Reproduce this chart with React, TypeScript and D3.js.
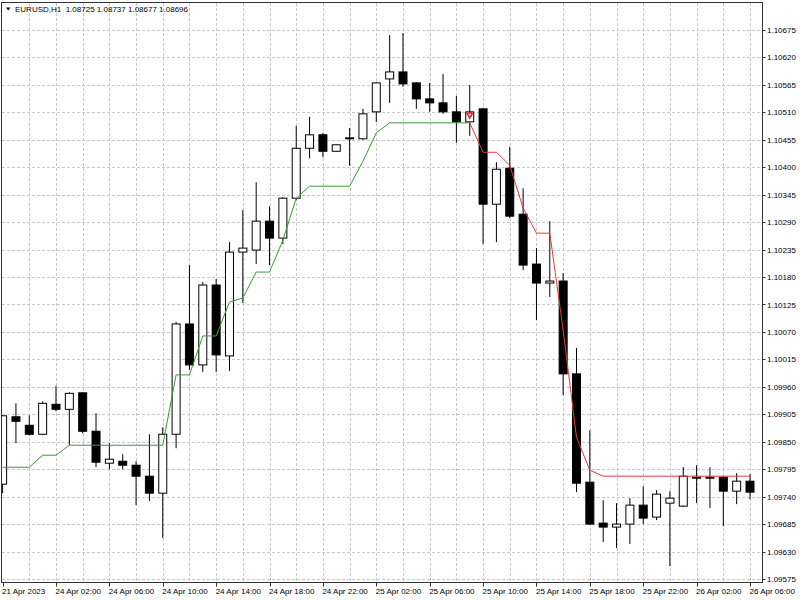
import React from 'react';
import * as d3 from 'd3';

// EURUSD H1, 21 Apr 22:00 -> 26 Apr 06:00 (one entry per bar)
const open = [
  1.09765, 1.099, 1.09883, 1.09865, 1.09925, 1.09915, 1.09948, 1.09871, 1.09807, 1.09811,
  1.09803, 1.09781, 1.09747, 1.09865, 1.10086, 1.10004, 1.10164, 1.10022, 1.1023, 1.10234,
  1.10292, 1.10258, 1.10338, 1.10438, 1.10465, 1.10432, 1.10457, 1.10457, 1.10511, 1.10577,
  1.10591, 1.10569, 1.10537, 1.10529, 1.10511, 1.10491, 1.10517, 1.10326, 1.10398, 1.10306,
  1.10206, 1.10168, 1.10172, 1.09986, 1.09769, 1.09687, 1.09679, 1.09685, 1.09723, 1.09699,
  1.09727, 1.09721, 1.09779, 1.09779, 1.09779, 1.09751, 1.09771,
];
const high = [
  1.09902, 1.09927, 1.09903, 1.09931, 1.09962, 1.09949, 1.09949, 1.09907, 1.09847, 1.09825,
  1.09811, 1.09865, 1.09879, 1.1009, 1.10204, 1.1017, 1.10176, 1.1025, 1.10314, 1.1037,
  1.10322, 1.1034, 1.10483, 1.10501, 1.10469, 1.10446, 1.10479, 1.10517, 1.10571, 1.10665,
  1.10669, 1.10571, 1.10569, 1.10587, 1.10543, 1.10565, 1.10519, 1.1041, 1.10441, 1.10358,
  1.10238, 1.10292, 1.10188, 1.10038, 1.09873, 1.09733, 1.09727, 1.09737, 1.09761, 1.09753,
  1.09751, 1.09799, 1.09803, 1.09799, 1.09781, 1.09787, 1.09785,
];
const low = [
  1.09747, 1.09847, 1.09863, 1.09863, 1.09911, 1.09843, 1.09867, 1.09799, 1.09795, 1.09795,
  1.09723, 1.09731, 1.09657, 1.09837, 1.09994, 1.0999, 1.0999, 1.09992, 1.10128, 1.10206,
  1.10204, 1.10246, 1.10334, 1.10418, 1.1042, 1.10431, 1.10403, 1.10455, 1.10491, 1.10529,
  1.10561, 1.10517, 1.10511, 1.10507, 1.10449, 1.10463, 1.10246, 1.1025, 1.10298, 1.10194,
  1.10094, 1.1014, 1.09943, 1.09749, 1.09684, 1.09649, 1.09637, 1.09645, 1.09685, 1.09693,
  1.09601, 1.09719, 1.09727, 1.09717, 1.09681, 1.09725, 1.09735,
];
const close = [
  1.09902, 1.09891, 1.09865, 1.09927, 1.09915, 1.09947, 1.09871, 1.09809, 1.09815, 1.09803,
  1.09781, 1.09747, 1.09865, 1.10086, 1.10004, 1.10164, 1.10024, 1.1023, 1.10238, 1.10292,
  1.10258, 1.10338, 1.10438, 1.10465, 1.10432, 1.10445, 1.10459, 1.10507, 1.10569, 1.10591,
  1.10567, 1.10537, 1.10529, 1.10511, 1.10491, 1.10511, 1.10326, 1.10396, 1.10302, 1.10204,
  1.10168, 1.10172, 1.09986, 1.09767, 1.09685, 1.09679, 1.09685, 1.09723, 1.09697, 1.09745,
  1.09737, 1.09781, 1.09777, 1.09777, 1.09751, 1.09771, 1.09749,
];

// trailing stop line: green (up) for bars 0..35, red (down) for bars 35..56
const greenStop = [
  1.09799, 1.09799, 1.09799, 1.09823, 1.09823, 1.09843, 1.09843, 1.09843, 1.09843, 1.09843,
  1.09843, 1.09843, 1.09843, 1.09984, 1.09984, 1.10062, 1.10062, 1.1013, 1.10138, 1.1019,
  1.1019, 1.10254, 1.10338, 1.10362, 1.10362, 1.10362, 1.10362, 1.10412, 1.10469, 1.10489,
  1.10489, 1.10489, 1.10489, 1.10489, 1.10489, 1.10489,
];
const redStart = 35;
const redStop = [
  1.10489, 1.1043, 1.1043, 1.10404, 1.10318, 1.10268, 1.10268, 1.10074, 1.09859, 1.09793,
  1.09781, 1.09781, 1.09781, 1.09781, 1.09781, 1.09781, 1.09781, 1.09781, 1.09781, 1.09781,
  1.09781, 1.09781,
];
const signalBar = 35;

const timeLabels = [
  '21 Apr 2023', '24 Apr 02:00', '24 Apr 06:00', '24 Apr 10:00', '24 Apr 14:00',
  '24 Apr 18:00', '24 Apr 22:00', '25 Apr 02:00', '25 Apr 06:00', '25 Apr 10:00',
  '25 Apr 14:00', '25 Apr 18:00', '25 Apr 22:00', '26 Apr 02:00', '26 Apr 06:00',
];
const barsPerLabel = 4;
const priceMin = 1.09575;
const priceStep = 0.00055;
const priceTicks = d3.range(21).map(k => +(priceMin + k * priceStep).toFixed(5));

const title = 'EURUSD,H1  1.08725 1.08737 1.08677 1.08696';

export default function App() {
  const W = 800, H = 600;
  const plot = { left: 1.5, top: 2.5, right: 762.5, bottom: 582.5 };
  const font = "'Liberation Sans', Arial, sans-serif";

  const x = d3.scaleLinear().domain([0, open.length - 1]).range([2.6, 750]);
  const y = d3.scaleLinear().domain([priceMin, priceTicks[priceTicks.length - 1]]).range([579, 30]);

  const bodyW = 8;
  const grid = '#c8c8c8';

  const line = d3.line<number>().x((_, i) => x(i)).y(d => y(d));
  const redLine = d3.line<number>().x((_, i) => x(i + redStart)).y(d => y(d));

  const vGrid = d3.range(2, open.length, 2);

  return (
    <svg width={W} height={H} style={{ position: 'absolute', left: 0, top: 0, background: '#fff' }}>
      <defs>
        <clipPath id="plot">
          <rect x={plot.left} y={plot.top} width={plot.right - plot.left} height={plot.bottom - plot.top} />
        </clipPath>
      </defs>
      <rect width={W} height={H} fill="#fff" />

      {/* grid */}
      <g stroke={grid} strokeDasharray="3,2" shapeRendering="crispEdges">
        {priceTicks.map(p => (
          <line key={'h' + p} x1={plot.left} x2={plot.right} y1={Math.round(y(p)) + 0.5} y2={Math.round(y(p)) + 0.5} />
        ))}
        {vGrid.map(i => (
          <line key={'v' + i} x1={Math.round(x(i)) + 0.5} x2={Math.round(x(i)) + 0.5} y1={plot.top} y2={plot.bottom} />
        ))}
      </g>

      <g clipPath="url(#plot)">
        {/* candles */}
        {open.map((o, i) => {
          const c = close[i];
          const up = c >= o;
          const cx = x(i);
          const top = y(Math.max(o, c));
          const bot = y(Math.min(o, c));
          return (
            <g key={i}>
              <line x1={cx} x2={cx} y1={y(high[i])} y2={y(low[i])} stroke="#000" strokeWidth={1} />
              <rect
                x={cx - bodyW / 2}
                y={top}
                width={bodyW}
                height={Math.max(bot - top, 1)}
                fill={up ? '#fff' : '#000'}
                stroke="#000"
                strokeWidth={1}
              />
            </g>
          );
        })}

        {/* stop lines */}
        <path d={line(greenStop) || ''} fill="none" stroke="#3a9a3a" strokeWidth={1} />
        <path d={redLine(redStop) || ''} fill="none" stroke="#e8383c" strokeWidth={1} />

        {/* sell signal arrow */}
        <path
          transform={`translate(${x(signalBar)},${y(close[signalBar]) + 3.5})`}
          d="M-3,-2.5 L0,2.5 L3,-2.5 M-2,-2.5 L2,-2.5"
          fill="none"
          stroke="#e8202a"
          strokeWidth={1.6}
        />
      </g>

      {/* frame */}
      <rect
        x={plot.left}
        y={plot.top}
        width={plot.right - plot.left}
        height={plot.bottom - plot.top}
        fill="none"
        stroke="#333"
        shapeRendering="crispEdges"
      />

      {/* price axis */}
      <g fontFamily={font} fontSize={8} fill="#000">
        {priceTicks.map(p => (
          <g key={'p' + p}>
            <line x1={plot.right} x2={plot.right + 3} y1={Math.round(y(p)) + 0.5} y2={Math.round(y(p)) + 0.5} stroke="#333" />
            <text x={767} y={y(p) + 3}>{p.toFixed(5)}</text>
          </g>
        ))}
      </g>

      {/* time axis */}
      <g fontFamily={font} fontSize={8} fill="#000">
        {timeLabels.map((t, k) => {
          const xi = x(k * barsPerLabel);
          return (
            <g key={t}>
              <line x1={Math.round(xi) + 0.5} x2={Math.round(xi) + 0.5} y1={plot.bottom} y2={plot.bottom + 4} stroke="#333" />
              <text x={xi - 0.5} y={594}>{t}</text>
            </g>
          );
        })}
      </g>

      {/* title */}
      <path d="M6,7.5 L10.5,7.5 L8.25,10.5 Z" fill="#000" />
      <text x={15} y={12} fontFamily={font} fontSize={8} fill="#000" style={{ whiteSpace: 'pre' }}>
        {title}
      </text>
    </svg>
  );
}
